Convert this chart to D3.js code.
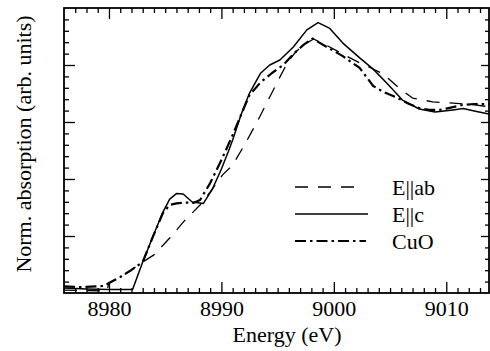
<!DOCTYPE html>
<html>
<head>
<meta charset="utf-8">
<script src="https://cdn.jsdelivr.net/npm/d3@7"></script>
</head>
<body style="margin:0">
<svg id="chart" width="490" height="351"></svg>
<script>
// ---- data (energy in eV, normalized absorption) ----
const xTicks = [8980, 8990, 9000, 9010];
const seriesNames = ["E||ab", "E||c", "CuO"];

const eabEnergy = [8976, 8978, 8979.8, 8980, 8981, 8982, 8983, 8984, 8985.4, 8986.7, 8988.1, 8989, 8990.1, 8991, 8992.2, 8993.4, 8994.3, 8995.2, 8995.9, 8996.6, 8997.3, 8998.2, 8999.3, 9000.8, 9002.3, 9003.3, 9004.4, 9005.2, 9005.8, 9007, 9008.8, 9010, 9011.2, 9012.5, 9013.8];
const eabValue  = [0.013, 0.011, 0.009, 0.044, 0.070, 0.101, 0.136, 0.167, 0.241, 0.316, 0.386, 0.443, 0.518, 0.561, 0.662, 0.772, 0.860, 0.947, 1.013, 1.057, 1.088, 1.114, 1.088, 1.048, 1.009, 0.987, 0.961, 0.925, 0.899, 0.855, 0.838, 0.835, 0.831, 0.825, 0.817];

const ecEnergy = [8976, 8978, 8980, 8982.1, 8983, 8984, 8984.8, 8985.4, 8986, 8986.6, 8987.4, 8988.4, 8989.2, 8990, 8990.6, 8991, 8991.8, 8992.5, 8993.5, 8994.3, 8995.2, 8996.4, 8997.6, 8998.6, 8999.6, 9000.8, 9002.3, 9003.5, 9004.7, 9006.1, 9007.6, 9009, 9010.6, 9011.5, 9012.7, 9013.8];
const ecValue  = [0.022, 0.018, 0.015, 0.015, 0.136, 0.259, 0.355, 0.412, 0.436, 0.434, 0.399, 0.393, 0.456, 0.544, 0.618, 0.671, 0.789, 0.877, 0.965, 1.000, 1.022, 1.079, 1.154, 1.186, 1.162, 1.096, 1.031, 0.982, 0.921, 0.846, 0.807, 0.794, 0.803, 0.809, 0.796, 0.785];

const cuoEnergy = [8976, 8977.5, 8979.6, 8980, 8981, 8982, 8983, 8983.9, 8984.8, 8985.4, 8986, 8986.9, 8987.5, 8988.1, 8989, 8990, 8991, 8992, 8992.5, 8993.5, 8994.5, 8995.5, 8996.4, 8997.3, 8998.1, 8999.3, 9000.8, 9002.3, 9003.5, 9004.4, 9005.6, 9006.7, 9007.6, 9008.5, 9009.4, 9010, 9011.5, 9012.5, 9013.8];
const cuoValue  = [0.029, 0.026, 0.031, 0.044, 0.070, 0.101, 0.136, 0.246, 0.351, 0.386, 0.393, 0.397, 0.395, 0.408, 0.482, 0.583, 0.693, 0.811, 0.868, 0.925, 0.965, 1.000, 1.048, 1.088, 1.116, 1.081, 1.039, 0.987, 0.908, 0.882, 0.857, 0.829, 0.811, 0.803, 0.803, 0.809, 0.825, 0.829, 0.829];

// ---- layout ----
const FONT = '"Liberation Serif"';
const svg = d3.select("#chart");
const L = 64, R = 489, T = 8, B = 293;
const x = d3.scaleLinear().domain([8976, 9013.8]).range([L, R]);
const y = d3.scaleLinear().domain([0, 1.25]).range([B, T]);

const majorX = xTicks;
const minorX = d3.range(8977, 9014, 1).filter(v => !majorX.includes(v));
const majorY = d3.range(0.25, 1.25, 0.25);
const minorY = d3.range(1, 25).map(i => i * 0.05).filter(v => Math.abs(v / 0.25 - Math.round(v / 0.25)) > 1e-6);

const MAJ = 11, MIN = 5;
const tickStroke = 1.3;

function styleText(sel) {
  return sel.attr("font-family", "Liberation Serif")
    .style("font-family", FONT)
    .style("font-size", "22px")
    .style("fill", "#000");
}

// bottom axis
const gB = svg.append("g").attr("transform", `translate(0,${B})`)
  .call(d3.axisBottom(x).tickValues(majorX).tickSizeInner(-MAJ).tickSizeOuter(0).tickPadding(7).tickFormat(d3.format("d")));
const gBm = svg.append("g").attr("transform", `translate(0,${B})`)
  .call(d3.axisBottom(x).tickValues(minorX).tickSizeInner(-MIN).tickSizeOuter(0).tickFormat(""));

// top axis
const gT = svg.append("g").attr("transform", `translate(0,${T})`)
  .call(d3.axisTop(x).tickValues(majorX).tickSizeInner(-MAJ).tickSizeOuter(0).tickFormat(""));
const gTm = svg.append("g").attr("transform", `translate(0,${T})`)
  .call(d3.axisTop(x).tickValues(minorX).tickSizeInner(-MIN).tickSizeOuter(0).tickFormat(""));

// left axis
const gL = svg.append("g").attr("transform", `translate(${L},0)`)
  .call(d3.axisLeft(y).tickValues(majorY).tickSizeInner(-MAJ).tickSizeOuter(0).tickFormat(""));
const gLm = svg.append("g").attr("transform", `translate(${L},0)`)
  .call(d3.axisLeft(y).tickValues(minorY).tickSizeInner(-MIN).tickSizeOuter(0).tickFormat(""));

// right axis
const gR = svg.append("g").attr("transform", `translate(${R},0)`)
  .call(d3.axisRight(y).tickValues(majorY).tickSizeInner(-8).tickSizeOuter(0).tickFormat(""));
const gRm = svg.append("g").attr("transform", `translate(${R},0)`)
  .call(d3.axisRight(y).tickValues(minorY).tickSizeInner(-4).tickSizeOuter(0).tickFormat(""));

[gB, gBm, gT, gTm, gL, gLm, gR, gRm].forEach(g => {
  g.attr("font-family", "Liberation Serif").attr("font-size", 22);
  g.select(".domain").remove();
  g.selectAll(".tick line").attr("stroke", "#000").attr("stroke-width", tickStroke);
});
styleText(gB.selectAll(".tick text"));

// frame
svg.append("rect")
  .attr("x", L).attr("y", T)
  .attr("width", R - L).attr("height", B - T)
  .attr("fill", "none").attr("stroke", "#000").attr("stroke-width", 1.8);

// curves
svg.append("clipPath").attr("id", "clip")
  .append("rect").attr("x", L).attr("y", T).attr("width", R - L).attr("height", B - T);

const line = d3.line().x(d => x(d[0])).y(d => y(d[1])).curve(d3.curveLinear);
const styles = [
  { e: eabEnergy, v: eabValue, dash: "13,10", w: 1.3 },
  { e: ecEnergy,  v: ecValue,  dash: null,    w: 1.5 },
  { e: cuoEnergy, v: cuoValue, dash: "11,4,2.5,4", w: 2.2 }
];
const gCurves = svg.append("g").attr("clip-path", "url(#clip)");
styles.forEach(s => {
  gCurves.append("path")
    .datum(s.e.map((e, i) => [e, s.v[i]]))
    .attr("d", line)
    .attr("fill", "none")
    .attr("stroke", "#000")
    .attr("stroke-width", s.w)
    .attr("stroke-linejoin", "round")
    .attr("stroke-dasharray", s.dash);
});

// legend
const legY = [187, 214, 241];
const legX2 = [356, 368, 366];
seriesNames.forEach((name, i) => {
  svg.append("line")
    .attr("x1", 295).attr("x2", legX2[i])
    .attr("y1", legY[i]).attr("y2", legY[i])
    .attr("stroke", "#000")
    .attr("stroke-width", styles[i].w)
    .attr("stroke-dasharray", styles[i].dash);
  styleText(svg.append("text")
    .attr("x", 392).attr("y", legY[i] + 8))
    .text(name);
});

// axis titles
styleText(svg.append("text")
  .attr("x", 287).attr("y", 342)
  .attr("text-anchor", "middle"))
  .text("Energy (eV)");

styleText(svg.append("text")
  .attr("transform", "translate(31,144) rotate(-90)")
  .attr("text-anchor", "middle"))
  .text("Norm. absorption (arb. units)");
</script>
</body>
</html>
